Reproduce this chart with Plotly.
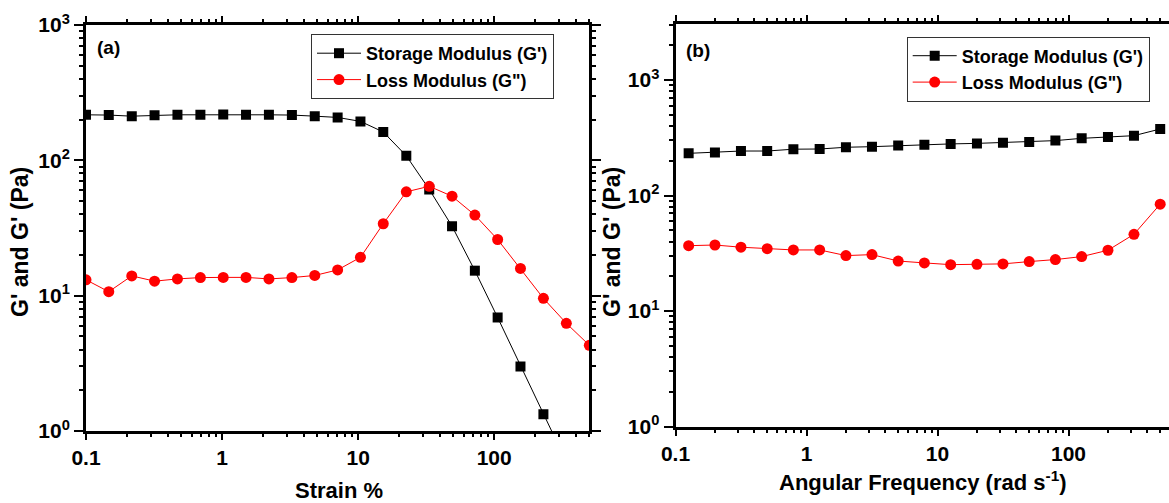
import math
import plotly.graph_objects as go

# ---------------- data ----------------
# (a) strain sweep
strain = [0.1, 0.147, 0.217, 0.319, 0.470, 0.693, 1.02, 1.50, 2.21, 3.26, 4.80, 7.07,
          10.4, 15.3, 22.6, 33.3, 49.0, 72.1, 106, 156, 230, 339, 500]
storage_a = [217, 216, 212, 215, 217, 217, 218, 217, 217, 216, 212, 207.5,
             194, 162, 108, 61, 32.6, 15.3, 6.9, 3.0, 1.33, 0.59, 0.26]
loss_a = [13.1, 10.7, 14.0, 12.8, 13.3, 13.6, 13.65, 13.65, 13.3, 13.6, 14.1, 15.5,
          19.2, 34, 58.5, 64.3, 54.3, 39.4, 26, 15.9, 9.55, 6.25, 4.3]

# (b) frequency sweep
freq = [0.126, 0.200, 0.316, 0.501, 0.794, 1.26, 2.00, 3.16, 5.01, 7.94,
        12.6, 20.0, 31.6, 50.1, 79.4, 126, 200, 316, 501]
storage_b = [232, 236, 243, 243, 252, 253, 262, 265, 271, 276,
             280, 283, 287, 291, 299, 313, 322, 330, 377]
loss_b = [36.8, 37.3, 35.7, 34.7, 33.8, 33.8, 30.2, 30.8, 27.1, 26.1,
          25.2, 25.4, 25.6, 26.8, 27.9, 29.6, 33.6, 46.2, 84.2]

x_tick_vals = [0.1, 1, 10, 100]
x_tick_text = ["0.1", "1", "10", "100"]
y_tick_vals = [1, 10, 100, 1000]
y_tick_text = ["10<sup>0</sup>", "10<sup>1</sup>", "10<sup>2</sup>", "10<sup>3</sup>"]

name_storage = "Storage Modulus (G')"
name_loss = "Loss Modulus (G\")"

# ---------------- styling ----------------
W, H = 1169, 503
FAM = "Liberation Sans, Arial, sans-serif"
tickfont = dict(family=FAM, size=21, color="black", weight="bold")

minor_x = [m * 10 ** e for e in range(-1, 3) for m in range(2, 10)]
minor_y = [m * 10 ** e for e in range(0, 4) for m in range(2, 10)]

fig = go.Figure()

def add(x, y, name, color, symbol, xa, ya, leg, size):
    fig.add_trace(go.Scatter(
        x=x, y=y, name=name, mode="lines+markers",
        line=dict(color=color, width=1),
        marker=dict(symbol=symbol, size=size, color=color),
        xaxis=xa, yaxis=ya, legend=leg))

add(strain, storage_a, name_storage, "black", "square", "x", "y", "legend", 10)
add(strain, loss_a, name_loss, "#ff0000", "circle", "x", "y", "legend", 11)
add(freq, storage_b, name_storage, "black", "square", "x2", "y2", "legend2", 10)
add(freq, loss_b, name_loss, "#ff0000", "circle", "x2", "y2", "legend2", 11)

def xax(domain, rng, anchor, mirror):
    return dict(type="log", domain=domain, range=rng, anchor=anchor, automargin=False,
                showline=True, linewidth=3, linecolor="black", mirror=mirror,
                ticks="outside", ticklen=6, tickwidth=2, tickcolor="black",
                tickmode="array", tickvals=x_tick_vals, ticktext=x_tick_text,
                tickfont=tickfont, showgrid=False, zeroline=False,
                minor=dict(ticks="outside", ticklen=3, tickwidth=1.5, tickcolor="black",
                           tickmode="array", tickvals=minor_x, showgrid=False))

def yax(domain, rng, anchor, mirror):
    return dict(type="log", domain=domain, range=rng, anchor=anchor, automargin=False,
                showline=True, linewidth=3, linecolor="black", mirror=mirror,
                ticks="outside", ticklen=9, tickwidth=2, tickcolor="black",
                tickmode="array", tickvals=y_tick_vals, ticktext=y_tick_text,
                tickfont=tickfont, showgrid=False, zeroline=False,
                minor=dict(ticks="outside", ticklen=4, tickwidth=1.5, tickcolor="black",
                           tickmode="array", tickvals=minor_y, showgrid=False))

def px(x):
    return x / W

def py(y):
    return 1 - y / H

legfont = dict(family=FAM, size=18, color="black", weight="bold")

fig.update_layout(
    template="none",
    width=W, height=H,
    margin=dict(l=0, r=0, t=0, b=0, pad=0, autoexpand=False),
    paper_bgcolor="white", plot_bgcolor="white",
    xaxis=xax([px(86), px(589.3)], [-1, math.log10(500)], "y", "allticks"),
    yaxis=yax([py(431), py(25)], [0, 3], "x", "allticks"),
    xaxis2=xax([px(675.5), 1.0], [-1, 2.767], "y2", "allticks"),
    yaxis2=yax([py(426.5), py(24.3)], [0, 3.483], "x2", False),
    legend=dict(x=px(311), y=py(34), xanchor="left", yanchor="top",
                bordercolor="#333", borderwidth=1, bgcolor="white",
                font=legfont, itemwidth=44, tracegroupgap=0),
    legend2=dict(x=px(906.7), y=py(36.5), xanchor="left", yanchor="top",
                 bordercolor="#333", borderwidth=1, bgcolor="white",
                 font=legfont, itemwidth=44, tracegroupgap=0),
    showlegend=True,
)

titlefont = dict(family=FAM, size=22, color="black", weight="bold")
ytitlefont = dict(family=FAM, size=23, color="black", weight="bold")
labfont = dict(family=FAM, size=19, color="black", weight="bold")

ann = [
    dict(text="Strain %", x=px(339), y=py(490), font=titlefont),
    dict(text="Angular Frequency (rad s<sup>-1</sup>)", x=px(923), y=py(481), font=titlefont),
    dict(text="G' and G' (Pa)", x=px(20), y=py(242), font=ytitlefont, textangle=-90),
    dict(text="G' and G' (Pa)", x=px(612), y=py(242), font=ytitlefont, textangle=-90),
    dict(text="(a)", x=px(108), y=py(47.5), font=labfont),
    dict(text="(b)", x=px(697.5), y=py(51), font=labfont),
]
for a in ann:
    fig.add_annotation(xref="paper", yref="paper", xanchor="center", yanchor="middle",
                       showarrow=False, **a)

fig.write_html("out.html")
